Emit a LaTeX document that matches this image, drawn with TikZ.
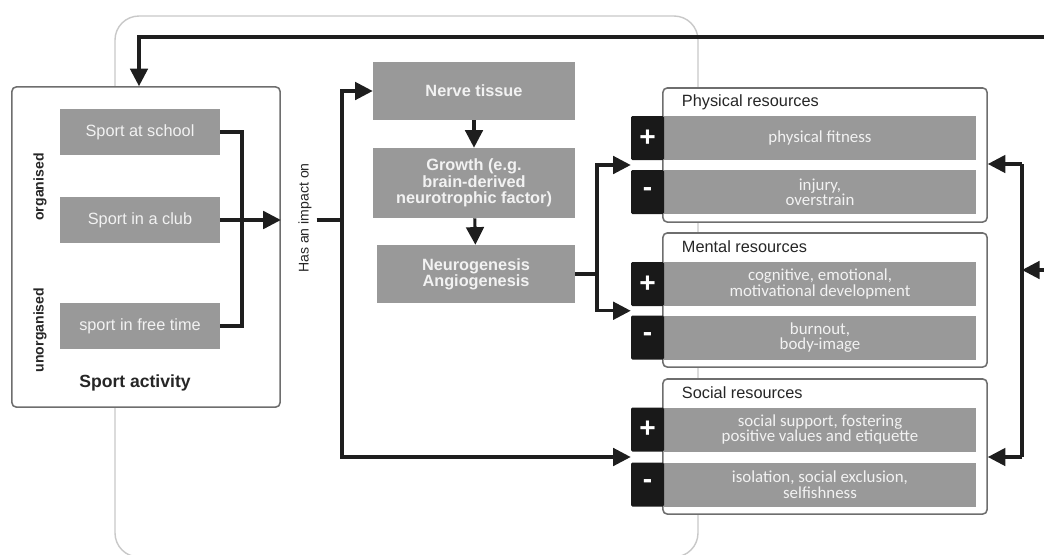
\documentclass[tikz,border=0pt]{standalone}
\usepackage{fontspec}
\setmainfont{Liberation Sans}
\newfontfamily\calfont{Carlito}
\usetikzlibrary{calc,arrows.meta}
\definecolor{boxgray}{HTML}{999999}
\definecolor{framegray}{HTML}{6E6E6E}
\definecolor{bggray}{HTML}{C8C8C8}
\definecolor{linegray}{HTML}{1E1E1E}
\definecolor{boxtext}{HTML}{F2F2F2}
\def\drawflow{\draw[color=linegray, line width=2.2pt]}
\def\drawarrow{\draw[color=linegray, line width=2.2pt, -{Triangle[length=12.5pt,width=12.5pt]}]}
\def\sportnode{\node[fill=boxgray,text=boxtext,minimum width=4cm,minimum height=1.15cm,inner sep=0pt,font=\fontsize{11.6}{13}\selectfont]}
\def\brainnode{\node[fill=boxgray,text=boxtext,minimum width=5.05cm,inner sep=0pt,align=center,font=\bfseries\fontsize{11.6}{11.6}\selectfont]}
\def\resnode{\node[fill=boxgray,text=boxtext,minimum width=7.8cm,minimum height=1.1cm,inner sep=0pt,align=center,font=\calfont\fontsize{12}{11}\selectfont]}
\def\signnode{\node[fill=black!90,text=white,minimum width=0.825cm,minimum height=1.1cm,inner sep=0pt,rounded corners=1pt,font=\bfseries\fontsize{20}{20}\selectfont]}
\def\framenode{\node[draw=framegray,fill=white,line width=1.1pt,rounded corners=3pt,inner sep=0pt]}

\begin{document}
\begin{tikzpicture}[x=0.025cm,y=-0.025cm]
\useasboundingbox (0,0) rectangle (1044,554);

% light frame behind the middle part
\draw[bggray, line width=1pt, rounded corners=0.6cm] (115,16) rectangle (698,557);

% ---------- Sport activity
\framenode[minimum width=6.7cm,minimum height=8cm] (sa) at (146,247) {};
\sportnode (school) at (140,132) {Sport at school};
\sportnode (club) at (140,220) {Sport in a club};
\sportnode (free) at (140,326) {sport in free time};
\node[rotate=90,font=\bfseries\fontsize{10}{12}\selectfont,text=black!85] (org) at (40,187) {organised};
\node[rotate=90,font=\bfseries\fontsize{10}{12}\selectfont,text=black!85] (unorg) at (40,330) {unorganised};
\node[font=\bfseries\fontsize{12.5}{14}\selectfont,text=black!85] (satitle) at (135,383) {Sport activity};

\coordinate (join) at (242,220); % where the three sport lines meet
\drawflow (school.east) -| (join) |- (free.east);
\drawarrow (club.east) -- (club.east -| sa.east);

% ---------- Has an impact on
\node[rotate=90,font=\fontsize{10}{12}\selectfont,text=black!85] (impact) at (305,218) {Has an impact on};
\coordinate (split) at (342,220);

% ---------- Nerve tissue chain
\brainnode[minimum height=1.45cm] (nerve) at (474,91) {Nerve tissue};
\brainnode[minimum height=1.75cm] (growth) at (474,183) {Growth (e.g.\\brain-derived\\neurotrophic factor)};
\brainnode[minimum height=1.45cm,minimum width=4.95cm] (neuro) at (476,274) {Neurogenesis\\Angiogenesis};
\drawarrow (nerve) -- (growth);
\drawarrow (growth) -- (neuro);

% ---------- Resources
\framenode[minimum width=8.1cm,minimum height=3.35cm] (phys) at (825,155) {};
\framenode[minimum width=8.1cm,minimum height=3.35cm] (ment) at (825,300) {};
\framenode[minimum width=8.1cm,minimum height=3.375cm] (soc) at (825,446.5) {};
\node[anchor=west,font=\fontsize{11.6}{13}\selectfont,text=black!85] (physT) at (677,102) {Physical resources};
\node[anchor=west,font=\fontsize{11.6}{13}\selectfont,text=black!85] (mentT) at (677,247) {Mental resources};
\node[anchor=west,font=\fontsize{11.6}{13}\selectfont,text=black!85] (socT) at (677,393) {Social resources};

\resnode (physPbox) at (820,138) {physical fitness};
\resnode (physMbox) at (820,192) {injury,\\overstrain};
\resnode (mentPbox) at (820,284) {cognitive, emotional,\\motivational development};
\resnode (mentMbox) at (820,337.5) {burnout,\\body-image};
\resnode (socPbox) at (820,429.5) {social support, fostering\\positive values and etiquette};
\resnode (socMbox) at (820,484.5) {isolation, social exclusion,\\selfishness};

\signnode (physP) at (647.5,138) {+};
\signnode (physM) at (647.5,192) {-};
\signnode (mentP) at (647.5,284) {+};
\signnode (mentM) at (647.5,337.5) {-};
\signnode (socP) at (647.5,429.5) {+};
\signnode (socM) at (647.5,484.5) {-};

% ---------- connectors into the resources
\coordinate (physin) at ($ (physP.south west)!.5!(physM.north west) $);
\coordinate (mentin) at ($ (mentP.south west)!.5!(mentM.north west) $);
\coordinate (socin) at ($ (socP.south west)!.5!(socM.north west) $);
\drawflow (split -| impact.south) -- (split);
\drawarrow (split) |- (nerve.west);
\drawarrow (split) |- (socin);

\coordinate (split2) at (597,274);
\drawflow (neuro.east) -- (split2);
\drawarrow (split2) |- (physin);
\drawarrow (split2) |- (mentin);

% ---------- feedback on the right and on top
\coordinate (rtop) at (1022,164);
\coordinate (rbot) at (1022,457);
\coordinate (redge) at (1044,270);
\drawflow (rtop) -- (rbot);
\drawarrow (rtop) -- (rtop -| phys.east);
\drawarrow (rbot) -- (rbot -| soc.east);
\drawarrow (redge) -- (redge -| rtop);

\coordinate (tedge) at (1044,37);
\coordinate (ttop) at (139,37);
\drawarrow (tedge) -- (ttop) -- (ttop |- sa.north);
\end{tikzpicture}
\end{document}
